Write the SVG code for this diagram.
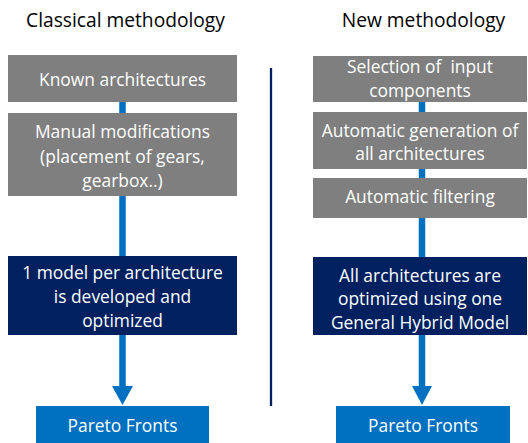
<svg xmlns="http://www.w3.org/2000/svg" width="528" height="443" viewBox="0 0 528 443">
<style>
.t{font-family:"Open Sans","Liberation Sans",sans-serif;font-size:17.4px;fill:#ffffff;text-anchor:middle}
.h{font-family:"Open Sans","Liberation Sans",sans-serif;font-size:19.2px;fill:#000000;text-anchor:middle}
.g{fill:#7f7f7f}
.n{fill:#002060}
.b{fill:#0070c0}
.c{stroke:#0070c0;stroke-width:6.5;fill:none}
</style>
<rect width="528" height="443" fill="#ffffff"/>
<text class="h" x="125.5" y="27">Classical methodology</text>
<text class="h" x="423.5" y="27">New methodology</text>
<g id="connectors">
<line class="c" x1="122.5" y1="102" x2="122.5" y2="113"/>
<line class="c" x1="122.5" y1="196" x2="122.5" y2="256"/>
<line class="c" x1="122.5" y1="335" x2="122.5" y2="388"/>
<polygon class="b" points="112,386 133,386 122.5,405"/>
<line class="c" x1="422" y1="102" x2="422" y2="112"/>
<line class="c" x1="422" y1="169" x2="422" y2="178"/>
<line class="c" x1="422" y1="218" x2="422" y2="257"/>
<line class="c" x1="422" y1="335" x2="422" y2="388"/>
<polygon class="b" points="412,386 432,386 422,405"/>
</g>
<line id="divider" x1="271" y1="68" x2="271" y2="406" stroke="#002060" stroke-width="2.3"/>
<g id="known">
<rect class="g" x="8" y="55" width="229" height="47"/>
<text class="t" x="122.5" y="86">Known architectures</text>
</g>
<g id="manual">
<rect class="g" x="8" y="113" width="229" height="83"/>
<text class="t" x="122.5" y="138">Manual modifications</text>
<text class="t" x="122.5" y="163">(placement of gears,</text>
<text class="t" x="122.5" y="187">gearbox..)</text>
</g>
<g id="model">
<rect class="n" x="8" y="256" width="229" height="79"/>
<text class="t" x="122.5" y="279">1 model per architecture</text>
<text class="t" x="122.5" y="303">is developed and</text>
<text class="t" x="122.5" y="327">optimized</text>
</g>
<g id="pareto1">
<rect class="b" x="36" y="406" width="173" height="37"/>
<text class="t" x="122.5" y="432">Pareto Fronts</text>
</g>
<g id="selection">
<rect class="g" x="313" y="56" width="214" height="46"/>
<text class="t" x="420" y="73" xml:space="preserve">Selection of  input</text>
<text class="t" x="420" y="97">components</text>
</g>
<g id="generation">
<rect class="g" x="313" y="112" width="214" height="57"/>
<text class="t" x="420" y="137">Automatic generation of</text>
<text class="t" x="420" y="160">all architectures</text>
</g>
<g id="filtering">
<rect class="g" x="313" y="178" width="214" height="40"/>
<text class="t" x="420" y="203">Automatic filtering</text>
</g>
<g id="general">
<rect class="n" x="313" y="257" width="214" height="78"/>
<text class="t" x="420" y="282">All architectures are</text>
<text class="t" x="420" y="305">optimized using one</text>
<text class="t" x="420" y="329">General Hybrid Model</text>
</g>
<g id="pareto2">
<rect class="b" x="336" y="406" width="174" height="37"/>
<text class="t" x="423" y="432">Pareto Fronts</text>
</g>
</svg>
